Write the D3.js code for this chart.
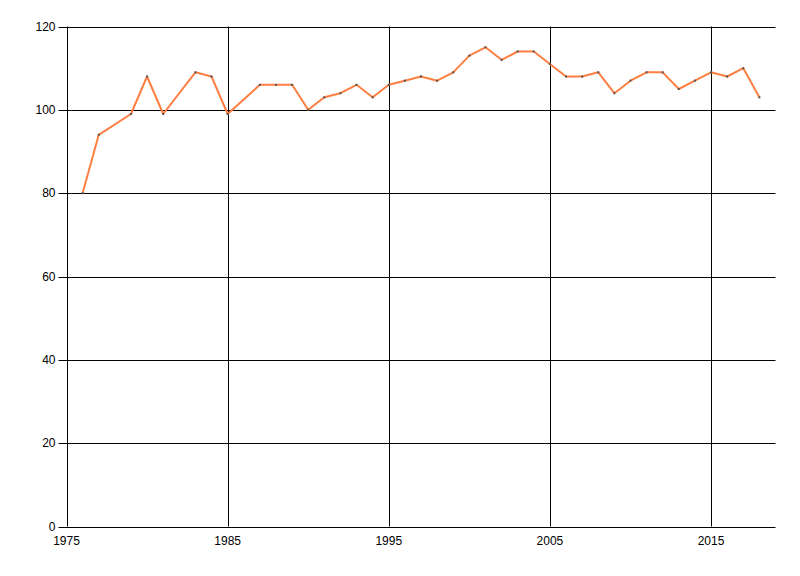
<!DOCTYPE html>
<html><head><meta http-equiv="Content-Type" content="text/html; charset=utf-8">
<script src="https://d3js.org/d3.v7.min.js"></script>
<style>
  body { margin: 0; background: #fff; }
  text { font-family: "Liberation Sans", "DejaVu Sans", sans-serif; font-size: 12px; fill: #000; }
</style>
</head>
<body>
<div class="chart"></div>
<script type="text/javascript">

    var years  = [1976, 1977, 1979, 1980, 1981, 1983, 1984, 1985, 1987, 1988, 1989, 1990,
                  1991, 1992, 1993, 1994, 1995, 1996, 1997, 1998, 1999, 2000, 2001, 2002,
                  2003, 2004, 2005, 2006, 2007, 2008, 2009, 2010, 2011, 2012, 2013, 2014,
                  2015, 2016, 2017, 2018];
    var values = [80, 94, 99, 108, 99, 109, 108, 99, 106, 106, 106, 100,
                  103, 104, 106, 103, 106, 107, 108, 107, 109, 113, 115, 112,
                  114, 114, 111, 108, 108, 109, 104, 107, 109, 109, 105, 107,
                  109, 108, 110, 103];
    var xTicks = [1975, 1985, 1995, 2005, 2015];
    var yTicks = [0, 20, 40, 60, 80, 100, 120];

    var width = 800, height = 576;
    var plotLeft = 66.5, plotRight = 775.5, plotTop = 26.5, plotBottom = 526.5;

    var svg = d3.select("div.chart")
        .append("svg")
        .attr("width", width)
        .attr("height", height);

    var x = d3.scaleLinear().domain([1975, 2019]).range([plotLeft, plotRight]);
    var y = d3.scaleLinear().domain([0, 120]).range([plotBottom, plotTop]);

    var data = years.map(function(yr, i) { return { year: yr, value: values[i] }; });

    // grid
    var grid = svg.append("g");
    grid.selectAll("line.h")
        .data(yTicks)
        .enter().append("line")
        .attr("x1", plotLeft - 8).attr("x2", plotRight)
        .attr("y1", function(d) { return Math.round(y(d)) + 0.5; })
        .attr("y2", function(d) { return Math.round(y(d)) + 0.5; })
        .style("stroke", "#000");
    grid.selectAll("line.v")
        .data(xTicks)
        .enter().append("line")
        .attr("x1", function(d) { return Math.round(x(d)) + 0.5; })
        .attr("x2", function(d) { return Math.round(x(d)) + 0.5; })
        .attr("y1", plotTop).attr("y2", plotBottom)
        .style("stroke", "#000");

    // labels
    svg.append("g").selectAll("text")
        .data(yTicks)
        .enter().append("text")
        .attr("x", plotLeft - 11)
        .attr("y", function(d) { return y(d) + 4; })
        .attr("text-anchor", "end")
        .text(function(d) { return d; });

    svg.append("g").selectAll("text")
        .data(xTicks)
        .enter().append("text")
        .attr("x", function(d) { return x(d); })
        .attr("y", plotBottom + 18)
        .attr("text-anchor", "middle")
        .text(function(d) { return d; });

    // series
    var line = d3.line()
        .x(function(d) { return x(d.year); })
        .y(function(d) { return y(d.value); });

    svg.append("path")
        .datum(data)
        .attr("d", line)
        .style("fill", "none")
        .style("stroke", "#ff7f42")
        .style("stroke-width", 2)
        .style("stroke-linejoin", "round");

    svg.append("g").selectAll("rect")
        .data(data)
        .enter().append("rect")
        .attr("x", function(d) { return x(d.year) - 1; })
        .attr("y", function(d) { return y(d.value) - 1; })
        .attr("width", 2).attr("height", 2)
        .style("fill", "#555");

</script>
</body></html>
